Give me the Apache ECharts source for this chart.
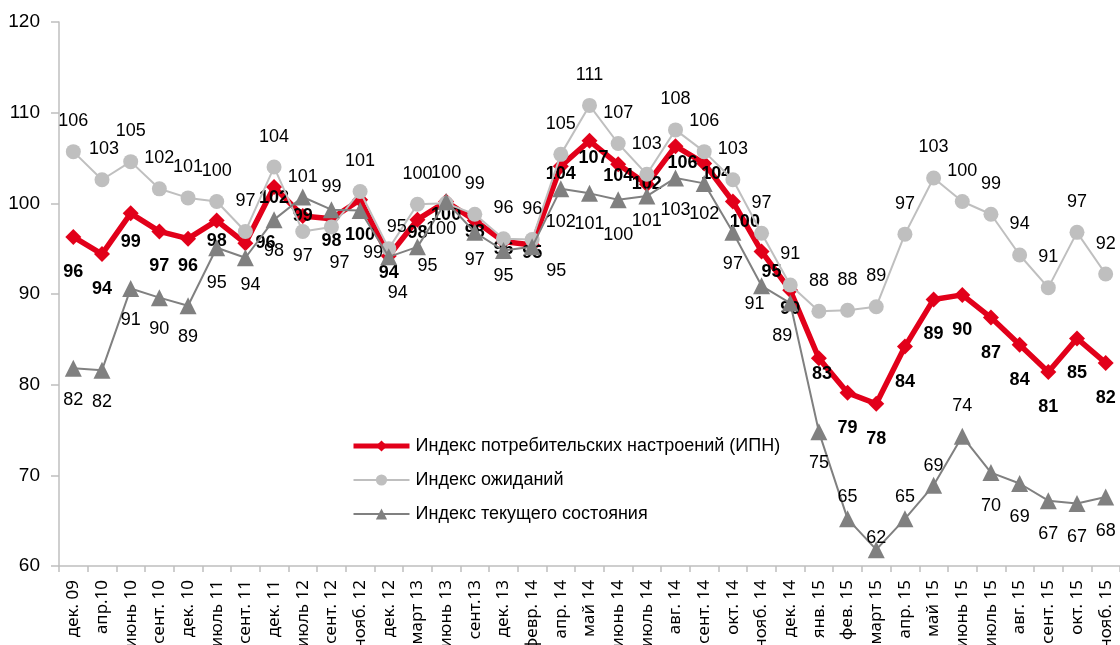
<!DOCTYPE html>
<html>
<head>
<meta charset="utf-8">
<script src="https://cdn.jsdelivr.net/npm/echarts@6/dist/echarts.min.js"></script>
<style>html,body{margin:0;padding:0;background:#fff;}#c{width:1120px;height:645px;}</style>
</head>
<body>
<div id="c"></div>
<script>
const categories = ['дек. 09','апр.10','июнь 10','сент. 10','дек. 10','июль 11','сент. 11','дек. 11','июль 12','сент. 12','нояб. 12','дек. 12','март 13','июнь 13','сент.13','дек. 13','февр. 14','апр. 14','май 14','июнь 14','июль 14','авг. 14','сент. 14','окт. 14','нояб. 14','дек. 14','янв. 15','фев. 15','март 15','апр. 15','май 15','июнь 15','июль 15','авг. 15','сент. 15','окт. 15','нояб. 15'];
const ipn = [96.3,94.4,98.9,96.9,96.1,98.1,95.6,101.8,98.6,98.3,100.4,94.2,98.2,100.2,98.1,95.8,95.4,104.1,106.9,104.3,102.1,106.3,104.4,100.2,94.7,90.4,82.9,79.1,77.9,84.2,89.4,89.9,87.4,84.4,81.4,85.1,82.4];
const expectations = [105.7,102.6,104.6,101.6,100.6,100.2,96.9,104.0,96.9,97.4,101.3,95.0,99.9,100.0,98.8,96.1,96.0,105.4,110.8,106.6,103.2,108.1,105.7,102.6,96.7,91.0,88.1,88.2,88.6,96.6,102.8,100.2,98.8,94.3,90.7,96.8,92.2];
const current = [81.8,81.6,90.6,89.6,88.7,95.1,94.0,98.2,100.7,99.3,99.2,94.1,95.2,100.2,96.8,94.8,95.2,101.6,101.1,100.4,100.8,102.8,102.2,96.8,90.9,89.0,74.8,65.2,61.8,65.2,68.9,74.3,70.3,69.1,67.2,66.9,67.6];
const yTicks = {min: 60, max: 120, step: 10};
const seriesNames = ['Индекс потребительских настроений (ИПН)','Индекс ожиданий','Индекс текущего состояния'];

// label placement tweaks (style only)
const ipnTweaks = {
  2:{distance:12},4:{distance:10},5:{distance:3},6:{position:'right',distance:2},7:{distance:-6},
  8:{position:'inside'},9:{distance:5},11:{distance:0},12:{distance:-4},13:{distance:-3},
  14:{distance:-6},15:{distance:-9},16:{distance:-9},17:{distance:-9},18:{distance:0,offset:[4,0]},
  19:{distance:-5},20:{position:'inside'},21:{distance:0,offset:[7,0]},22:{distance:-6,offset:[12,0]},
  23:{distance:4,offset:[12,0]},24:{distance:4,offset:[10,0]},25:{distance:2},26:{distance:-1,offset:[3,0]}
};
const expTweaks = {
  1:{offset:[2,0]},8:{position:'bottom',distance:8},9:{position:'bottom',distance:20,offset:[8,0]},
  11:{distance:5,offset:[8,0]}
};
const curTweaks = {
  5:{distance:18},6:{distance:10,offset:[5,0]},8:{position:'top',distance:2},9:{position:'top',distance:5},
  10:{distance:25,offset:[13,0]},11:{distance:19,offset:[9,0]},12:{distance:2,offset:[10,0]},
  13:{distance:10,offset:[-5,0]},14:{distance:10},15:{distance:8},16:{distance:7,offset:[24,0]},
  17:{distance:16},18:{distance:13},19:{distance:18},20:{distance:7},21:{distance:15},22:{distance:13},
  23:{distance:14},24:{distance:1,offset:[-7,0]},25:{distance:15,offset:[-8,0]},
  27:{position:'top',distance:4},28:{position:'top',distance:-6},29:{position:'top',distance:4},
  30:{position:'top',distance:2},31:{position:'top',distance:13},
  32:{distance:16},33:{distance:16},34:{distance:16},35:{distance:16},36:{distance:16}
};

function build(vals, tweaks){
  return vals.map((v,i)=> tweaks[i] ? {value:v, label:tweaks[i]} : v);
}
const labelFont = 'Liberation Sans, Arial, sans-serif';
const fmt = p => String(Math.round(p.value));

const chart = echarts.init(document.getElementById('c'), null, {renderer:'canvas'});
chart.setOption({
  animation:false,
  backgroundColor:'#fff',
  grid:{left:59,right:0,top:22,bottom:79,containLabel:false,outerBoundsMode:'none'},
  legend:{
    orient:'vertical', left:346, top:432, itemWidth:56, itemHeight:14, itemGap:16,
    data:[
      {name:seriesNames[0], lineStyle:{width:5}},
      {name:seriesNames[1], lineStyle:{width:2}},
      {name:seriesNames[2], lineStyle:{width:2}}
    ],
    textStyle:{fontFamily:labelFont,fontSize:18,color:'#000',padding:[0,0,0,1]}
  },
  xAxis:{
    type:'category', data:categories, boundaryGap:true,
    axisLine:{lineStyle:{color:'#BFBFBF',width:1.5}},
    axisTick:{show:true,interval:0,length:6,lineStyle:{color:'#BFBFBF',width:1.5}},
    axisLabel:{interval:0,rotate:90,margin:14,fontSize:17,fontFamily:'Noto Sans, sans-serif',color:'#000'},
    splitLine:{show:false}
  },
  yAxis:{
    type:'value', min:yTicks.min, max:yTicks.max, interval:yTicks.step,
    axisLine:{show:true,lineStyle:{color:'#BFBFBF',width:1.5}},
    axisTick:{show:true,length:8,lineStyle:{color:'#BFBFBF',width:1.5}},
    axisLabel:{margin:19,fontSize:19,fontFamily:labelFont,color:'#000'},
    splitLine:{show:false}
  },
  series:[
    {
      name:seriesNames[0], type:'line', data:build(ipn,ipnTweaks),
      symbol:'diamond', symbolSize:16,
      lineStyle:{color:'#E2001A',width:5.5}, itemStyle:{color:'#E2001A'},
      label:{show:true,position:'bottom',distance:18,formatter:fmt,fontFamily:labelFont,fontSize:18,fontWeight:'bold',color:'#000'},
      z:2
    },
    {
      name:seriesNames[1], type:'line', data:build(expectations,expTweaks),
      symbol:'circle', symbolSize:15,
      lineStyle:{color:'#BFBFBF',width:2}, itemStyle:{color:'#BFBFBF'},
      label:{show:true,position:'top',distance:14,formatter:fmt,fontFamily:labelFont,fontSize:18,color:'#000'},
      z:3
    },
    {
      name:seriesNames[2], type:'line', data:build(current,curTweaks),
      symbol:'triangle', symbolSize:17,
      lineStyle:{color:'#808080',width:2}, itemStyle:{color:'#808080'},
      label:{show:true,position:'bottom',distance:14,formatter:fmt,fontFamily:labelFont,fontSize:18,color:'#000'},
      z:4
    }
  ]
});
</script>
</body>
</html>
